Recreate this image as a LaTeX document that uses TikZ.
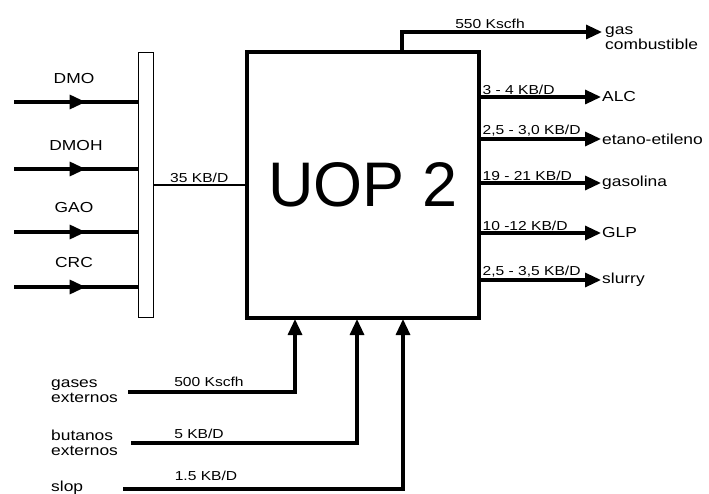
\documentclass[tikz,border=0pt]{standalone}
\usepackage{fontspec}
\setmainfont{Liberation Sans}
\newfontfamily\labfont{Liberation Sans}[FakeStretch=1.2]
\usepackage{tikz}
\usetikzlibrary{positioning,arrows.meta,decorations.markings}

\begin{document}
\begin{tikzpicture}[x=1pt,y=-1pt,>={Triangle[length=16pt,width=14pt]},
  every node/.style={font=\labfont\fontsize{14.5}{15}\selectfont,inner sep=1pt},
  rate/.style={font=\labfont\fontsize{13}{13}\selectfont},
  feed/.style={line width=3.2pt,postaction={decorate},
    decoration={markings,mark=at position 0.58 with {\arrow{>}}}},
  prod/.style={->,line width=3.2pt},
  link/.style={line width=2pt}]
\useasboundingbox (0,0) rectangle (709,494);
\node (mix) [draw,line width=1pt,minimum width=15pt,minimum height=264pt] at (145.5,185) {};
\node (uop) [draw,line width=4pt,minimum width=232pt,minimum height=266pt,
  font=\fontsize{63}{64}\selectfont] at (363,185) {UOP 2};
\coordinate (i1) at (14,102);
\coordinate (i2) at (14,169);
\coordinate (i3) at (14,232);
\coordinate (i4) at (14,287);
\node (dmo) at (74,79) {DMO};
\node (dmoh) at (76,146) {DMOH};
\node (gao) at (74,208) {GAO};
\node (crc) at (74,263) {CRC};
\draw[feed] (i1) -- (i1 -| mix.west);
\draw[feed] (i2) -- (i2 -| mix.west);
\draw[feed] (i3) -- (i3 -| mix.west);
\draw[feed] (i4) -- (i4 -| mix.west);
\draw[link] (mix.east) -- (mix.east -| uop.west)
  node[rate,midway,above] {35 KB/D};
\coordinate (gasend) at (602,32);
\draw[prod] (uop.north -| 402,0) |- (gasend)
  node[rate,pos=0.72,above=1pt] {550 Kscfh};
\node (gas) [anchor=west,align=left] at (604,38) {gas\\combustible};
\coordinate (o1) at (601,97);
\coordinate (o2) at (601,139);
\coordinate (o3) at (601,183);
\coordinate (o4) at (601,233);
\coordinate (o5) at (601,280);
\draw[prod] (o1 -| uop.east) -- (o1) node[rate,pos=0,above right=0pt and -1pt] {3 - 4 KB/D};
\draw[prod] (o2 -| uop.east) -- (o2) node[rate,pos=0,above right=0pt and -1pt] {2,5 - 3,0 KB/D};
\draw[prod] (o3 -| uop.east) -- (o3) node[rate,pos=0,above right=0pt and -1pt] {19 - 21 KB/D};
\draw[prod] (o4 -| uop.east) -- (o4) node[rate,pos=0,above right=0pt and -1pt] {10 -12 KB/D};
\draw[prod] (o5 -| uop.east) -- (o5) node[rate,pos=0,above right=0pt and -1pt] {2,5 - 3,5 KB/D};
\node (alc) [anchor=west] at (o1) {ALC};
\node (etano) [anchor=west] at (o2) {etano-etileno};
\node (gasolina) [anchor=west] at (o3) {gasolina};
\node (glp) [anchor=west] at (o4) {GLP};
\node (slurry) [anchor=west] at (o5) {slurry};
\coordinate (b1) at (128,392);
\coordinate (b2) at (131,443);
\coordinate (b3) at (123,489);
\node (gases) [anchor=west,align=left] at (50,391) {gases\\externos};
\node (butanos) [anchor=west,align=left] at (50,443) {butanos\\externos};
\node (slop) [anchor=west] at (50,488) {slop};
\draw[prod,shorten >=-1pt] (b1) -| (uop.south -| 295,0);
\draw[prod,shorten >=-1pt] (b2) -| (uop.south -| 357,0);
\draw[prod,shorten >=-1pt] (b3) -| (uop.south -| 403,0);
\node[rate] at (209,382) {500 Kscfh};
\node[rate] at (199,434) {5 KB/D};
\node[rate] at (206,476) {1.5 KB/D};
\end{tikzpicture}
\end{document}
